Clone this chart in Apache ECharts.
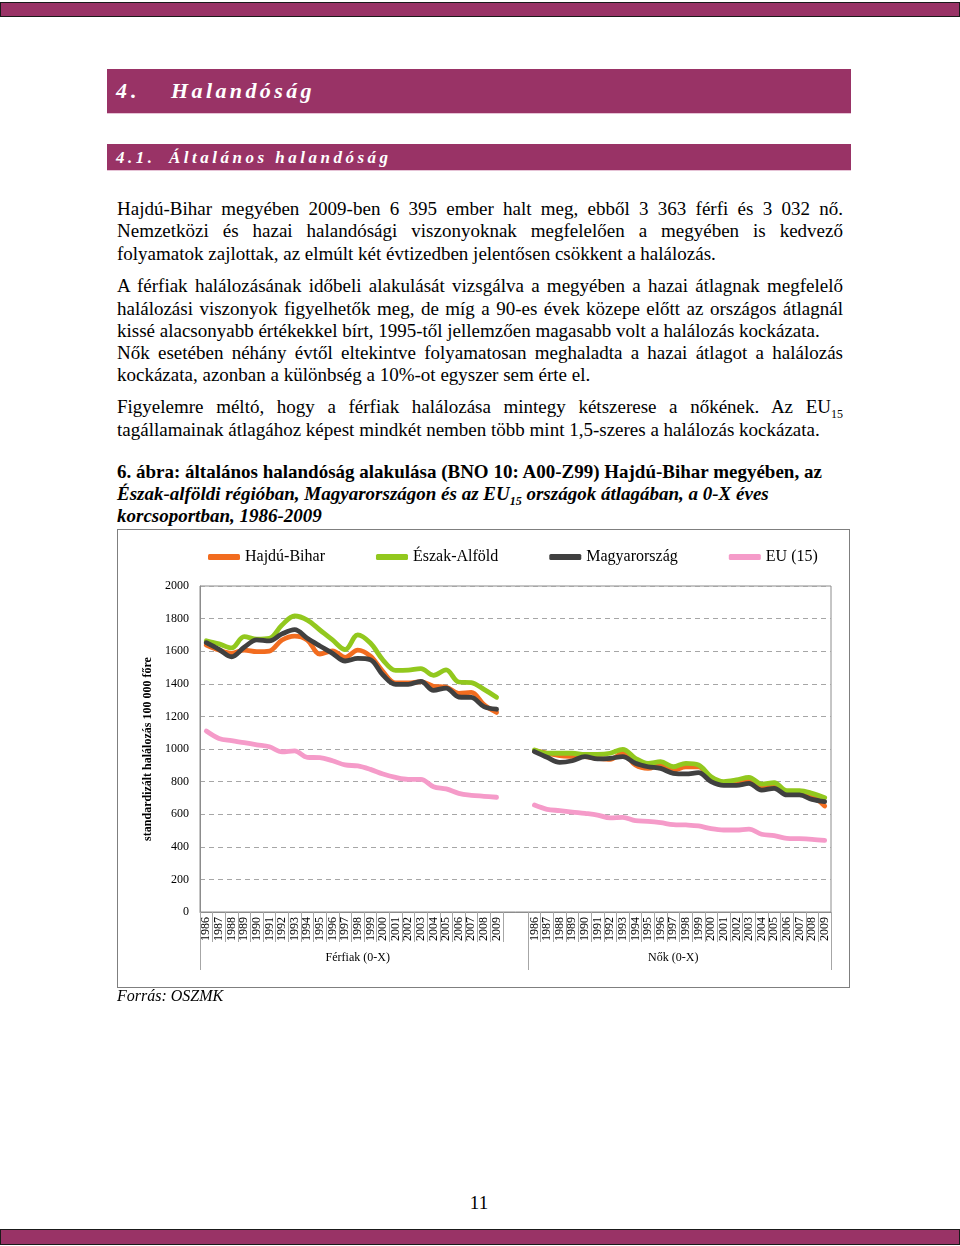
<!DOCTYPE html>
<html>
<head>
<meta charset="utf-8">
<script src="https://cdn.jsdelivr.net/npm/echarts@6/dist/echarts.min.js"></script>
<style>
  html, body { margin: 0; padding: 0; background: #fff; }
  #page { position: relative; width: 960px; height: 1246px; overflow: hidden; font-family: 'Liberation Serif', 'Times New Roman', serif; color: #000; }
  .bar { position: absolute; left: 0; width: 958px; background: #993366; border: 1px solid #1a1a1a; }
  .hbox { position: absolute; left: 107px; width: 744px; background: #993366; border-bottom: 1px solid #e6c3d6; }
  .htxt { position: absolute; color: #fff; font-weight: bold; font-style: italic; white-space: nowrap; }
  .ln { position: absolute; left: 117px; width: 726px; font-size: 19px; line-height: 22px; white-space: nowrap; }
  .j { text-align: justify; text-align-last: justify; }
  .cap { font-weight: bold; }
  .capi { font-weight: bold; font-style: italic; }
  sub { font-size: 12px; line-height: 0; }
  #chart { position: absolute; left: 117px; top: 529px; width: 733px; height: 459px; box-sizing: border-box; border: 1px solid #7f7f7f; }
</style>
</head>
<body>
<div id="page">
  <div class="bar" style="top:2px;height:13px;"></div>

  <div class="hbox" style="top:69px;height:44px;"></div>
  <div class="htxt" style="left:116px;top:80px;font-size:22px;line-height:22px;letter-spacing:4px;">4.</div>
  <div class="htxt" style="left:171px;top:80px;font-size:22px;line-height:22px;letter-spacing:3.4px;">Halandóság</div>

  <div class="hbox" style="top:144px;height:26px;"></div>
  <div class="htxt" style="left:116px;top:148px;font-size:17px;line-height:19px;letter-spacing:3.5px;">4.1.</div>
  <div class="htxt" style="left:169px;top:148px;font-size:17px;line-height:19px;letter-spacing:3.5px;">Általános halandóság</div>

  <div class="ln j" style="top:198px;">Hajdú-Bihar megyében 2009-ben 6 395 ember halt meg, ebből 3 363 férfi és 3 032 nő.</div>
  <div class="ln j" style="top:220px;">Nemzetközi és hazai halandósági viszonyoknak megfelelően a megyében is kedvező</div>
  <div class="ln" style="top:243px;">folyamatok zajlottak, az elmúlt két évtizedben jelentősen csökkent a halálozás.</div>

  <div class="ln j" style="top:275px;">A férfiak halálozásának időbeli alakulását vizsgálva a megyében a hazai átlagnak megfelelő</div>
  <div class="ln j" style="top:298px;">halálozási viszonyok figyelhetők meg, de míg a 90-es évek közepe előtt az országos átlagnál</div>
  <div class="ln" style="top:320px;">kissé alacsonyabb értékekkel bírt, 1995-től jellemzően magasabb volt a halálozás kockázata.</div>
  <div class="ln j" style="top:342px;">Nők esetében néhány évtől eltekintve folyamatosan meghaladta a hazai átlagot a halálozás</div>
  <div class="ln" style="top:364px;">kockázata, azonban a különbség a 10%-ot egyszer sem érte el.</div>

  <div class="ln j" style="top:396px;">Figyelemre méltó, hogy a férfiak halálozása mintegy kétszerese a nőkének. Az EU<sub>15</sub></div>
  <div class="ln" style="top:419px;">tagállamainak átlagához képest mindkét nemben több mint 1,5-szeres a halálozás kockázata.</div>

  <div class="ln cap" style="top:461px;">6. ábra: általános halandóság alakulása (BNO 10: A00-Z99) Hajdú-Bihar megyében, az</div>
  <div class="ln capi" style="top:483px;">Észak-alföldi régióban, Magyarországon és az EU<sub>15</sub> országok átlagában, a 0-X éves</div>
  <div class="ln capi" style="top:505px;">korcsoportban, 1986-2009</div>

  <div id="chart"></div>

  <div class="ln" style="top:985px;font-size:16px;font-style:italic;">Forrás: OSZMK</div>
  <div class="ln" style="top:1192px;left:0;width:958px;text-align:center;">11</div>

  <div class="bar" style="top:1229px;height:14px;"></div>
</div>
<script>
// ---- data ----
const years = ['1986','1987','1988','1989','1990','1991','1992','1993','1994','1995','1996','1997',
               '1998','1999','2000','2001','2002','2003','2004','2005','2006','2007','2008','2009'];
const groupLabels = ['Férfiak (0-X)', 'Nők (0-X)'];
const seriesNames = ['Hajdú-Bihar', 'Észak-Alföld', 'Magyarország', 'EU (15)'];

const menHB = [1638,1607,1587,1607,1597,1601,1669,1693,1669,1582,1602,1562,1607,1570,1474,1405,1405,1413,1385,1380,1341,1347,1272,1224];
const menEA = [1664,1645,1620,1689,1674,1679,1761,1816,1791,1730,1669,1610,1700,1650,1546,1482,1484,1493,1452,1485,1411,1407,1366,1317];
const menHU = [1652,1611,1566,1624,1670,1663,1706,1732,1679,1632,1587,1540,1556,1548,1454,1397,1397,1415,1360,1374,1319,1316,1260,1244];
const menEU = [1110,1065,1051,1039,1026,1014,982,988,949,947,928,902,896,875,847,826,814,814,769,755,728,716,710,704];

const womHB = [990,974,960,955,953,943,937,974,902,881,902,871,891,891,814,789,793,810,769,779,732,732,712,650];
const womEA = [994,974,974,974,967,967,974,998,943,912,922,891,912,902,830,800,810,826,785,793,744,744,728,701];
const womHU = [984,949,918,928,953,939,943,953,912,891,881,851,847,855,800,777,777,789,748,759,718,718,691,677];
const womEU = [656,630,622,613,605,595,577,581,560,556,548,536,534,528,511,503,503,509,477,468,452,450,446,440];

const yTicks = { min: 0, max: 2000, interval: 200 };
const yTitle = 'standardizált halálozás 100 000 főre';

// ---- build ----
const categories = [].concat(years.map(y => 'F' + y), ['gapA', 'gapB'], years.map(y => 'N' + y));
const join = (m, w) => [].concat(m, [null, null], w);
const colors = ['#F26C1F', '#92C81E', '#404040', '#F59BC9'];
const values = [join(menHB, womHB), join(menEA, womEA), join(menHU, womHU), join(menEU, womEU)];
const FONT = "'Liberation Serif', 'Times New Roman', serif";

const chart = echarts.init(document.getElementById('chart'), null, { renderer: 'canvas' });
chart.setOption({
  animation: false,
  backgroundColor: '#fff',
  textStyle: { fontFamily: FONT },
  legend: {
    data: seriesNames,
    left: 85, top: 14,
    itemGap: 51, itemWidth: 32, itemHeight: 6,
    icon: 'roundRect',
    textStyle: { fontFamily: FONT, fontSize: 16, color: '#000' }
  },
  grid: {
    left: 82, top: 56, width: 631, height: 326,
    show: true, borderColor: '#8c8c8c', borderWidth: 1, backgroundColor: 'transparent'
  },
  xAxis: [{
    type: 'category', data: categories, boundaryGap: true,
    axisLine: { show: true, lineStyle: { color: '#8c8c8c', width: 1 } },
    axisTick: { show: true, length: 30, lineStyle: { color: '#a6a6a6' }, interval: (i) => i !== 25 },
    axisLabel: {
      interval: 0, rotate: 90, margin: 5, fontSize: 12, fontFamily: FONT, color: '#000',
      formatter: v => v.startsWith('gap') ? '' : v.slice(1)
    },
    splitLine: { show: false }
  }, {
    type: 'category', data: categories, boundaryGap: true, position: 'bottom',
    axisLine: { show: false },
    axisTick: { show: true, length: 58, lineStyle: { color: '#a6a6a6' }, interval: (i) => i === 0 || i === 26 },
    axisLabel: {
      interval: 0, margin: 40, fontSize: 12, fontFamily: FONT, color: '#000',
      formatter: (v, i) => i === 12 ? groupLabels[0] : (i === 37 ? groupLabels[1] : '')
    },
    splitLine: { show: false }
  }],
  yAxis: {
    type: 'value', min: yTicks.min, max: yTicks.max, interval: yTicks.interval,
    name: yTitle, nameLocation: 'middle', nameGap: 38,
    nameTextStyle: { fontFamily: FONT, fontSize: 12, fontWeight: 'bold', color: '#000' },
    axisLine: { show: true, lineStyle: { color: '#8c8c8c' } },
    axisTick: { show: false },
    axisLabel: { margin: 11, fontSize: 12, fontFamily: FONT, color: '#000', formatter: v => String(v) },
    splitLine: { show: true, lineStyle: { color: '#a6a6a6', type: [5, 4], width: 1 } }
  },
  series: seriesNames.map((name, k) => ({
    name, type: 'line', data: values[k], xAxisIndex: 0,
    smooth: 0.35, connectNulls: false, showSymbol: false, symbol: 'none',
    lineStyle: { color: colors[k], width: 4.8, cap: 'round', join: 'round' },
    itemStyle: { color: colors[k] },
    emphasis: { disabled: true }
  }))
});
</script>
</body>
</html>
